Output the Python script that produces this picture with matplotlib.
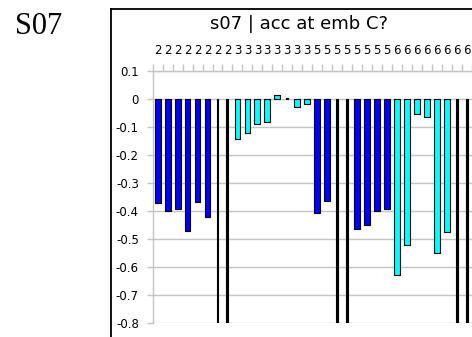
import matplotlib
matplotlib.use("Agg")
import matplotlib.pyplot as plt
from matplotlib.lines import Line2D
from matplotlib.ticker import FixedLocator

# accuracy per embedding run, grouped by session number
groups = ["2"] * 8 + ["3"] * 8 + ["5"] * 8 + ["6"] * 8
acc = [-0.37, -0.40, -0.39, -0.47, -0.365, -0.42, -1.0, -1.0,
       -0.14, -0.12, -0.09, -0.08, 0.014, 0.004, -0.026, -0.017,
       -0.407, -0.362, -1.0, -1.0, -0.463, -0.448, -0.399, -0.39,
       -0.626, -0.52, -0.054, -0.063, -0.548, -0.475, -1.0, -1.0]
kind = ["b", "b", "b", "b", "b", "b", "k", "k",
        "c", "c", "c", "c", "c", "k", "c", "c",
        "b", "b", "k", "k", "b", "b", "b", "b",
        "c", "c", "c", "c", "c", "c", "k", "k"]
yticks = [0.1, 0, -0.1, -0.2, -0.3, -0.4, -0.5, -0.6, -0.7, -0.8]
ytick_labels = ["0.1", "0", "-0.1", "-0.2", "-0.3", "-0.4", "-0.5", "-0.6", "-0.7", "-0.8"]

colors = {"b": "#0000ff", "c": "#00ffff", "k": "#000000"}
widths = {"b": 0.58, "c": 0.58, "k": 0.2}
grid_col = "#c4c4c4"

W, H = 472, 337
fig = plt.figure(figsize=(W / 100, H / 100), dpi=100)
plt.rcParams["font.family"] = ["DejaVu Sans"]

ax = fig.add_axes([152.7 / W, 13.7 / H, 319 / W, 252 / H])
x = list(range(len(acc)))
for i, v in enumerate(acc):
    k = kind[i]
    ax.bar(i, v, width=widths[k], color=colors[k], edgecolor="black",
           linewidth=0.8, zorder=3)

ax.set_xlim(-0.5, len(acc) - 0.5)
ax.set_ylim(-0.8, 0.1)

# value axis on the left, with light grid
ax.set_yticks(yticks)
ax.set_yticklabels(ytick_labels, fontsize=8.5)
ax.yaxis.grid(True, color=grid_col, linewidth=1.0, zorder=0)
ax.tick_params(axis="y", length=4, width=1, color=grid_col, pad=6)

# category axis sits on top, ticks between categories
ax.xaxis.tick_top()
ax.set_xticks(x)
ax.set_xticklabels(groups, fontsize=8.5)
ax.xaxis.set_minor_locator(FixedLocator([i - 0.5 for i in range(len(acc) + 1)]))
ax.tick_params(axis="x", which="major", length=0, pad=10)
ax.tick_params(axis="x", which="minor", length=5, width=1, color=grid_col, direction="out")

for side in ["right", "bottom"]:
    ax.spines[side].set_visible(False)
for side in ["left", "top"]:
    ax.spines[side].set_color(grid_col)
    ax.spines[side].set_linewidth(1.0)

fig.text(299 / W, 1 - 24 / H, "s07 | acc at emb C?", fontsize=13,
         ha="center", va="center")

# frame around the chart and the panel label
fig.add_artist(Line2D([110.5 / W, 110.5 / W], [0, 1 - 8.5 / H], color="black", linewidth=1.3))
fig.add_artist(Line2D([110.5 / W, 1], [1 - 8.5 / H, 1 - 8.5 / H], color="black", linewidth=1.3))
fig.text(15 / W, 1 - 34 / H, "S07", fontsize=22, family="Liberation Serif")

fig.savefig("out.png", dpi=100)
